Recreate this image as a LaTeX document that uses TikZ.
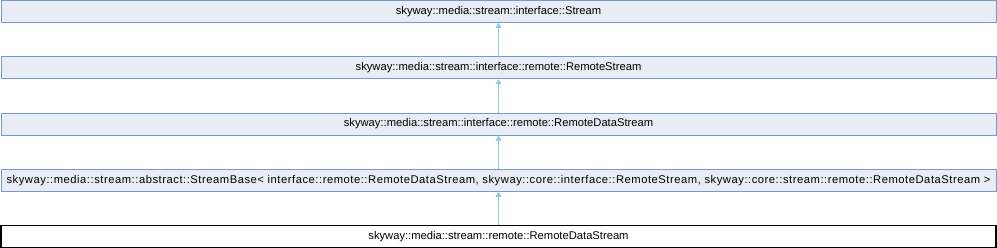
\documentclass[tikz,border=0pt]{standalone}
\usepackage{fontspec}
\setmainfont{Liberation Sans}
\usetikzlibrary{positioning,arrows.meta}
\definecolor{colFill}{RGB}{232,236,244}
\definecolor{colEdge}{RGB}{122,150,204}
\definecolor{colArrow}{RGB}{140,200,236}

\begin{document}
\begin{tikzpicture}[
    x=1pt, y=-1pt,
    every node/.style={font=\fontsize{11.2}{13}\selectfont},
    cls/.style={draw=colEdge, fill=colFill, line width=0.9pt, minimum width=995pt, minimum height=22pt, inner sep=0pt},
    cur/.style={draw=black, fill=white, line width=1.1pt, minimum width=995pt, minimum height=22pt, inner sep=0pt},
    inh/.style={draw=colArrow, line width=0.9pt, -{Triangle[length=5pt,width=6pt]}}
]
    \useasboundingbox (0,0) rectangle (997,248);

    \node[cls] (stream) at (498.5,11.5) {skyway::media::stream::interface::Stream};
    \node[cls] (remote) at (498.5,67.8) {skyway::media::stream::interface::remote::RemoteStream};
    \node[cls] (remdata) at (498.5,124.1) {skyway::media::stream::interface::remote::RemoteDataStream};
    \node[cls] (base) at (498.5,180.4) {\addfontfeature{LetterSpace=4.8}skyway::media::stream::abstract::StreamBase< interface::remote::RemoteDataStream, skyway::core::interface::RemoteStream, skyway::core::stream::remote::RemoteDataStream >};
    \node[cur] (impl) at (498.5,236.2) {skyway::media::stream::remote::RemoteDataStream};

    % inheritance edges
    \draw[inh] (remote) -- (stream);
    \draw[inh] (remdata) -- (remote);
    \draw[inh] (base) -- (remdata);
    \draw[inh] (impl) -- (base);
\end{tikzpicture}
\end{document}
